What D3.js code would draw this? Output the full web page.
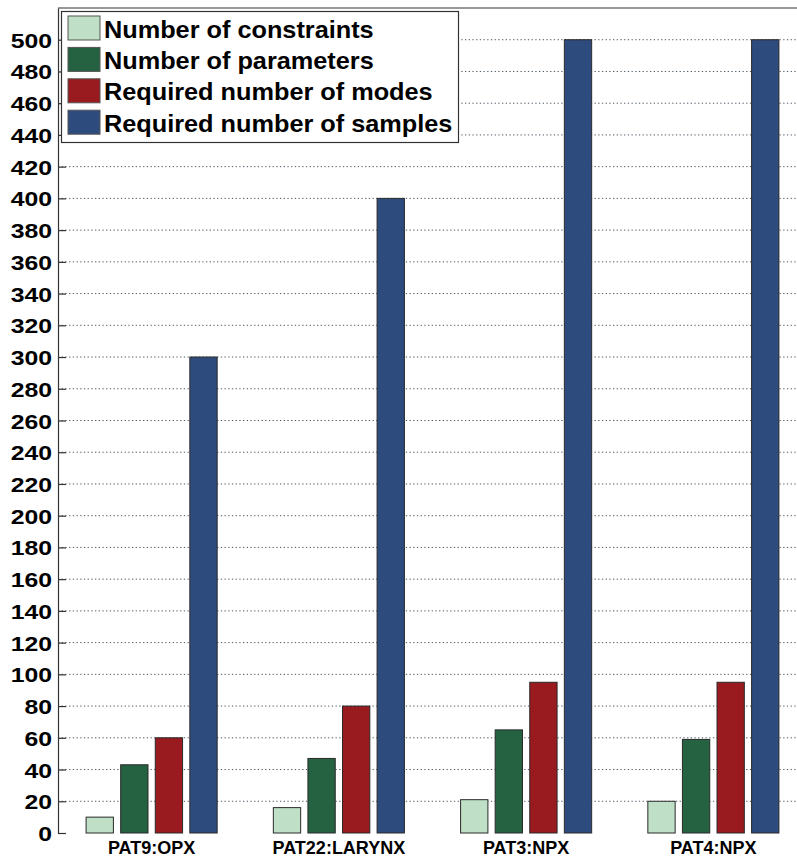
<!DOCTYPE html>
<html lang="en">
<head>
<meta charset="utf-8">
<script src="https://d3js.org/d3.v7.min.js"></script>
<style>
  body { margin: 0; background: #fff; }
  text { font-family: "Liberation Sans", Arial, sans-serif; font-weight: bold; fill: #000; }
</style>
<title>Constraints / parameters / modes / samples</title>
</head>
<body>
<div id="chart"></div>
<script>
  // data
  const patients = ["PAT9:OPX", "PAT22:LARYNX", "PAT3:NPX", "PAT4:NPX"];
  const seriesNames = ["Number of constraints", "Number of parameters", "Required number of modes", "Required number of samples"];
  const constraints = [10, 16, 21, 20];
  const parameters = [43, 47, 65, 59];
  const modes = [60, 80, 95, 95];
  const samples = [300, 400, 500, 500];
  const yTicks = d3.range(0, 501, 20);

  const colors = ["#bfe0c6", "#246242", "#991b1f", "#2e4b7d"];
  const W = 797, H = 857;
  const plotL = 58, plotR = 807, plotT = 8, plotB = 833;

  const series = [constraints, parameters, modes, samples];
  const rows = patients.map((p, i) => ({ name: p, vals: series.map(s => s[i]) }));

  const svg = d3.select("#chart").append("svg").attr("width", W).attr("height", H);

  const x = d3.scaleBand().domain(patients).range([plotL, plotR]).paddingInner(0.3).paddingOuter(0.15);
  const xs = d3.scaleBand().domain(d3.range(4)).range([0, x.bandwidth()]).paddingInner(0.21);
  const y = d3.scaleLinear().domain([0, 520]).range([plotB, plotT]);

  // grid
  svg.append("g").selectAll("line")
     .data(yTicks.filter(d => d > 0))
     .enter().append("line")
     .attr("x1", plotL).attr("x2", W)
     .attr("y1", d => y(d)).attr("y2", d => y(d))
     .attr("stroke", "#4b5966")
     .attr("stroke-width", 1)
     .attr("stroke-dasharray", "1.3,2.4");

  // top box line
  svg.append("line").attr("x1", plotL).attr("x2", W).attr("y1", plotT).attr("y2", plotT)
     .attr("stroke", "#333").attr("stroke-width", 1.2);

  // bars
  const groups = svg.selectAll("g.grp").data(rows).enter().append("g")
     .attr("class", "grp")
     .attr("transform", d => "translate(" + x(d.name) + ",0)");
  groups.selectAll("rect").data(d => d.vals).enter().append("rect")
     .attr("x", (d, i) => xs(i))
     .attr("width", xs.bandwidth())
     .attr("y", d => y(d))
     .attr("height", d => y(0) - y(d))
     .attr("fill", (d, i) => colors[i])
     .attr("stroke", "#2a2a2a")
     .attr("stroke-width", 1);

  // y axis
  const yAxis = d3.axisLeft(y).tickValues(yTicks).tickSizeInner(-8).tickSizeOuter(0).tickPadding(6);
  const ya = svg.append("g").attr("transform", "translate(" + plotL + ",0)").call(yAxis);
  ya.select(".domain").attr("stroke", "#333").attr("stroke-width", 1.2);
  ya.selectAll(".tick line").attr("stroke", "#333").attr("stroke-width", 1.2);
  ya.selectAll(".tick text").remove();
  ya.selectAll(".tick").append("text")
     .attr("text-anchor", "end")
     .attr("transform", "translate(-6,7.5) scale(1.18,1)")
     .style("font-size", "21px")
     .text(d => d);

  // x labels
  svg.append("g").selectAll("text").data(patients).enter().append("text")
     .attr("x", d => x(d) + x.bandwidth() / 2)
     .attr("y", 854)
     .attr("text-anchor", "middle")
     .style("font-size", "18px")
     .text(d => d);

  // legend
  const lg = svg.append("g");
  lg.append("rect").attr("x", 61.5).attr("y", 11.5).attr("width", 397).attr("height", 131)
     .attr("fill", "#fff").attr("stroke", "#333").attr("stroke-width", 1.2);
  const items = lg.selectAll("g.item").data(seriesNames).enter().append("g")
     .attr("transform", (d, i) => "translate(0," + (16 + i * 31.4) + ")");
  items.append("rect").attr("x", 68).attr("y", 0).attr("width", 32).attr("height", 24)
     .attr("fill", (d, i) => colors[i]).attr("stroke", "#555").attr("stroke-width", 1);
  items.append("text")
     .attr("transform", "translate(104,21.5) scale(1.1,1)")
     .style("font-size", "23px")
     .text(d => d);
</script>
</body>
</html>
